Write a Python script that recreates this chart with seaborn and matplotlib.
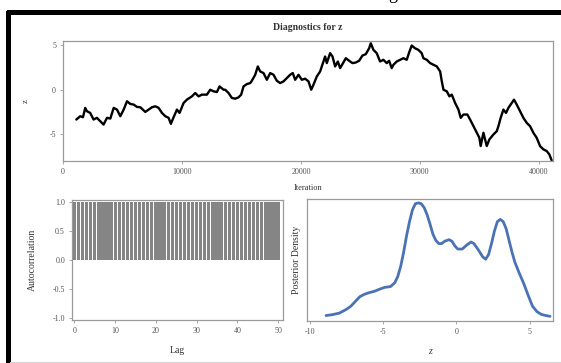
import matplotlib
matplotlib.use("Agg")
import matplotlib.pyplot as plt
from matplotlib.patches import Rectangle
from matplotlib.lines import Line2D
import seaborn as sns
import pandas as pd

# MCMC trace of z (iteration, value)
trace_iter = [1120, 1450, 1680, 1870, 2010, 2290, 2570, 2850, 3130, 3410, 3700, 3980,
              4260, 4540, 4820, 5100, 5380, 5660, 5940, 6220, 6500, 6920, 7200, 7480,
              7760, 8040, 8320, 8600, 8880, 9070, 9300, 9580, 9800, 10140, 10420, 10840,
              11120, 11400, 11680, 12100, 12380, 12660, 12940, 13160, 13500, 13640, 13920,
              14200, 14480, 14760, 14980, 15180, 15460, 15740, 15880, 16160, 16380, 16580,
              16860, 17140, 17420, 17700, 17980, 18260, 18540, 18820, 19100, 19320, 19520,
              19800, 20080, 20360, 20640, 20870, 21060, 21340, 21620, 21900, 22040, 22180,
              22460, 22660, 22880, 23110, 23300, 23500, 23780, 24060, 24340, 24620, 24900,
              25180, 25460, 25740, 25880, 26100, 26380, 26660, 26940, 27220, 27420, 27640,
              27780, 28060, 28340, 28620, 28900, 29130, 29320, 29600, 29880, 30160, 30300,
              30590, 30870, 31150, 31430, 31710, 31850, 31990, 32270, 32490, 32690, 32970,
              33250, 33440, 33670, 34000, 34230, 34510, 34790, 35010, 35120, 35350, 35630,
              35850, 36190, 36470, 36610, 36800, 37030, 37250, 37450, 37640, 37920, 38150,
              38430, 38710, 38990, 39270, 39550, 39830, 40110, 40390, 40670, 40890, 41090]
trace_z = [-3.33, -2.96, -3.07, -2.03, -2.40, -2.59, -3.33, -3.14, -3.51, -3.89, -3.14, -3.22,
           -2.03, -2.22, -2.96, -2.22, -1.29, -1.59, -1.66, -1.92, -1.96, -2.48, -2.22, -1.96,
           -1.85, -2.03, -2.59, -2.96, -3.14, -3.81, -3.07, -2.22, -2.59, -1.48, -1.11, -0.74,
           -0.37, -0.74, -0.55, -0.55, 0.00, -0.18, -0.26, 0.37, 0.00, 0.00, -0.37,
           -0.92, -1.00, -0.85, -0.55, 0.37, 0.63, 0.74, 1.00, 1.67, 2.60, 2.04,
           1.86, 1.11, 1.86, 1.67, 1.00, 0.74, 0.93, 1.30, 1.67, 1.86, 1.11,
           1.67, 1.11, 1.23, 0.93, 0.00, 0.56, 1.48, 2.04, 3.15, 3.71, 2.97,
           4.08, 3.71, 2.60, 3.15, 2.41, 2.86, 3.52, 3.23, 2.97, 3.04, 3.23,
           3.82, 3.97, 4.63, 5.19, 4.45, 4.08, 3.15, 3.34, 2.97, 3.23, 2.41,
           2.78, 3.15, 3.34, 3.52, 3.34, 4.26, 4.93, 4.63, 4.45, 4.08, 3.52,
           3.34, 2.97, 2.78, 2.60, 2.04, 0.93, 0.00, -0.18, -0.74, -0.55, -1.48,
           -2.22, -3.14, -2.77, -2.77, -3.33, -4.07, -4.81, -5.37, -6.29, -4.81, -6.29,
           -5.55, -5.00, -4.63, -4.07, -3.14, -2.22, -2.59, -2.03, -1.66, -1.11, -1.66,
           -2.40, -3.14, -3.70, -4.07, -4.81, -5.37, -6.29, -6.66, -6.85, -7.22, -7.89]

# autocorrelation by lag
lags = list(range(0, 51))
acf = [1.000, 1.000, 1.000, 1.000, 1.000, 1.000, 1.000, 1.000, 1.000, 1.000,
       0.999, 0.999, 0.999, 0.999, 0.999, 0.999, 0.999, 0.999, 0.999, 0.999,
       0.999, 0.999, 0.999, 0.999, 0.999, 0.999, 0.999, 0.999, 0.999, 0.999,
       0.999, 0.999, 0.999, 0.999, 0.999, 0.999, 0.999, 0.999, 0.999, 0.999,
       0.998, 0.998, 0.998, 0.998, 0.998, 0.998, 0.998, 0.998, 0.998, 0.998, 0.998]

# posterior density estimate of z
dens_z = [-8.9, -8.5, -8.0, -7.5, -7.2, -6.9, -6.6, -6.3, -6.0, -5.6, -5.2, -4.9, -4.5,
          -4.2, -4.0, -3.8, -3.6, -3.4, -3.2, -3.0, -2.8, -2.6, -2.4, -2.2, -2.0, -1.8,
          -1.6, -1.4, -1.2, -1.0, -0.8, -0.5, -0.3, -0.1, 0.1, 0.4, 0.7, 1.0, 1.2, 1.5,
          1.8, 2.0, 2.2, 2.4, 2.6, 2.8, 3.0, 3.2, 3.4, 3.6, 3.8, 4.0, 4.3, 4.6, 4.9,
          5.2, 5.5, 5.8, 6.1, 6.4]
dens_y = [0.003, 0.004, 0.006, 0.011, 0.015, 0.021, 0.027, 0.030, 0.032, 0.034, 0.037,
          0.039, 0.040, 0.045, 0.053, 0.066, 0.084, 0.105, 0.123, 0.138, 0.146, 0.147,
          0.146, 0.141, 0.132, 0.120, 0.107, 0.099, 0.095, 0.095, 0.098, 0.100, 0.098,
          0.092, 0.088, 0.088, 0.093, 0.097, 0.095, 0.087, 0.078, 0.075, 0.081, 0.095,
          0.111, 0.123, 0.126, 0.123, 0.114, 0.099, 0.084, 0.071, 0.057, 0.044, 0.029,
          0.015, 0.008, 0.0045, 0.003, 0.002]

sns.set_theme(style="white")
plt.rcParams["font.family"] = ["Liberation Serif", "DejaVu Serif"]

W, H = 561, 363
fig = plt.figure(figsize=(W / 100, H / 100), dpi=100)
fig.patch.set_facecolor("white")

spine_c = "#9a9a9a"
tick_c = "#555555"
label_c = "#333333"


def style_axes(ax):
    for s in ax.spines.values():
        s.set_color(spine_c)
        s.set_linewidth(0.9)
    ax.tick_params(axis="both", which="both", length=2.5, width=0.6, color=spine_c,
                   labelsize=5.8, labelcolor=tick_c, pad=2.5, direction="out",
                   bottom=True, left=True)


def fig_box(left, top, right, bottom):
    return [left / W, 1 - bottom / H, (right - left) / W, (bottom - top) / H]


# trace plot
ax1 = fig.add_axes(fig_box(63, 41, 553, 161))
sns.lineplot(x=trace_iter, y=trace_z, ax=ax1, color="black", lw=1.7,
             sort=False, estimator=None)
ax1.set_xlim(0, 41200)
ax1.set_ylim(-7.96, 5.44)
ax1.set_xticks([0, 10000, 20000, 30000, 40000])
ax1.set_yticks([5, 0, -5])
ax1.set_yticklabels(["5", "0", "-5"])
ax1.set_xlabel("Iteration", fontsize=6, color=label_c, labelpad=6)
ax1.set_ylabel("z", fontsize=6.5, color=label_c, labelpad=14)
ax1.set_title("Diagnostics for z", fontsize=7, fontweight="bold", color=label_c, pad=8)
style_axes(ax1)

# autocorrelation plot
ax2 = fig.add_axes(fig_box(72, 200, 283, 320))
acf_df = pd.DataFrame({"lag": lags, "acf": acf})
sns.barplot(data=acf_df, x="lag", y="acf", ax=ax2, native_scale=True, color="#858585",
            saturation=1, width=0.8, linewidth=0, edgecolor="none")
ax2.set_xlim(-0.6, 51.2)
ax2.set_ylim(-1.03, 1.04)
ax2.set_xticks([0, 10, 20, 30, 40, 50])
ax2.set_yticks([1.0, 0.5, 0.0, -0.5, -1.0])
ax2.set_yticklabels(["1.0", "0.5", "0.0", "-0.5", "-1.0"])
ax2.set_xlabel("Lag", fontsize=7, color=label_c, labelpad=8)
ax2.set_ylabel("Autocorrelation", fontsize=7, color=label_c, labelpad=11)
style_axes(ax2)

# density plot
ax3 = fig.add_axes(fig_box(307, 199, 553, 321))
sns.lineplot(x=dens_z, y=dens_y, ax=ax3, color="#4a72b4", lw=2.0,
             sort=False, estimator=None)
ax3.set_xlim(-10.2, 6.6)
ax3.set_ylim(-0.004, 0.152)
ax3.set_xticks([-10, -5, 0, 5])
ax3.set_xticklabels(["-10", "-5", "0", "5"])
ax3.set_yticks([])
ax3.set_xlabel("z", fontsize=7, style="italic", color=label_c, labelpad=8)
ax3.set_ylabel("Posterior Density", fontsize=7, color=label_c, labelpad=4)
style_axes(ax3)

# heavy black frame on top and left
fig.add_artist(Rectangle((7 / W, 1 - 15 / H), 1 - 7 / W, 5 / H, transform=fig.transFigure,
                         facecolor="black", edgecolor="none"))
fig.add_artist(Rectangle((6 / W, 0), 4.5 / W, 1 - 11 / H, transform=fig.transFigure,
                         facecolor="black", edgecolor="none"))
fig.add_artist(Line2D([10 / W, 1], [1.5 / H, 1.5 / H], transform=fig.transFigure,
                      color="#d8d8d8", lw=0.8))

# caption text above the frame, mostly outside the canvas
fig.text(393 / W, 1.0 + 1 / H, "g", fontsize=13, ha="center", va="baseline",
         color="black")

fig.savefig("out.png", dpi=100, facecolor="white")
